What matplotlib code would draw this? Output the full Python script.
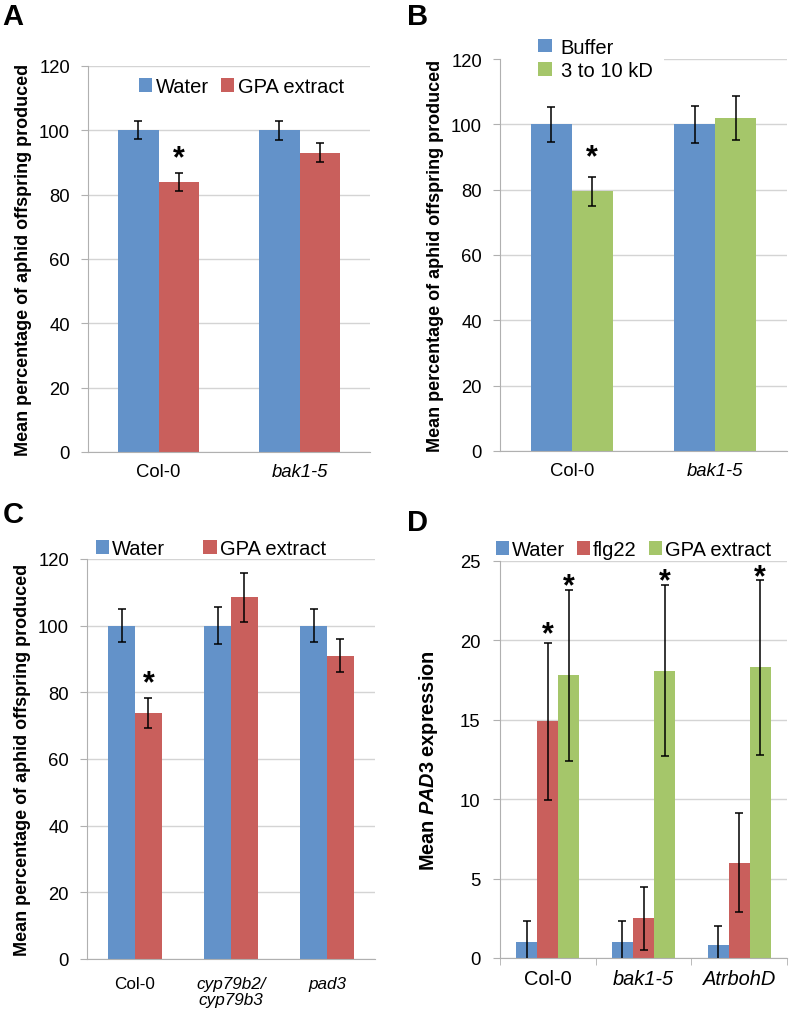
import matplotlib
matplotlib.use("Agg")
import matplotlib.pyplot as plt
from matplotlib.patches import Patch, Rectangle
import numpy as np

plt.rcParams['font.family'] = ['Liberation Sans', 'DejaVu Sans']
plt.rcParams['mathtext.fontset'] = 'custom'
plt.rcParams['mathtext.it'] = 'Liberation Sans:bold:italic'
plt.rcParams['mathtext.rm'] = 'Liberation Sans:bold'

BLUE = '#6392c9'
RED = '#c95f5c'
GREEN = '#a5c66a'
GRID = '#d4d4d4'
SPINE = '#b0b0b0'

# ---------------- data ----------------
a_cats = ['Col-0', 'bak1-5']
a_series = ['Water', 'GPA extract']
a_water = [100, 100]
a_water_err = [2.8, 3.0]
a_gpa = [84, 93]
a_gpa_err = [2.8, 3.0]
a_sig = [True, False]

b_cats = ['Col-0', 'bak1-5']
b_series = ['Buffer', '3 to 10 kD']
b_buffer = [100, 100]
b_buffer_err = [5.3, 5.7]
b_kd = [79.5, 102]
b_kd_err = [4.5, 6.7]
b_sig = [True, False]

c_cats = ['Col-0', 'cyp79b2/\ncyp79b3', 'pad3']
c_series = ['Water', 'GPA extract']
c_water = [100, 100, 100]
c_water_err = [5.0, 5.5, 5.0]
c_gpa = [73.8, 108.5, 91]
c_gpa_err = [4.5, 7.3, 5.0]
c_sig = [True, False, False]

d_cats = ['Col-0', 'bak1-5', 'AtrbohD']
d_series = ['Water', 'flg22', 'GPA extract']
d_water = [1.0, 1.0, 0.8]
d_water_err = [1.3, 1.3, 1.2]
d_flg = [14.9, 2.5, 6.0]
d_flg_err = [4.95, 2.0, 3.1]
d_gpa = [17.8, 18.1, 18.3]
d_gpa_err = [5.4, 5.4, 5.5]
d_flg_sig = [True, False, False]
d_gpa_sig = [True, True, True]

fig = plt.figure(figsize=(7.93, 10.12), dpi=100)


def style_axes(ax, ymax, ystep, ncat, tick_fs, xticks_minor=False):
    ax.set_ylim(0, ymax)
    ax.set_xlim(-0.5, ncat - 0.5)
    ax.set_yticks(np.arange(0, ymax + 0.01, ystep))
    ax.yaxis.grid(True, color=GRID, linewidth=1.0)
    ax.set_axisbelow(True)
    for s in ['top', 'right']:
        ax.spines[s].set_visible(False)
    ax.spines['left'].set_color(SPINE)
    ax.spines['bottom'].set_color(SPINE)
    ax.tick_params(axis='y', length=5, color=SPINE, direction='out',
                   labelsize=tick_fs, pad=8)
    ax.tick_params(axis='x', length=0, labelsize=tick_fs, pad=8)
    ax.set_xticks(np.arange(ncat), minor=False)
    if xticks_minor:
        ax.set_xticks(np.arange(ncat + 1) - 0.5, minor=True)
        ax.tick_params(axis='x', which='minor', length=5, color=SPINE, direction='out')


def bars(ax, x, vals, errs, color, width):
    b = ax.bar(x, vals, width, color=color, zorder=2)
    ax.errorbar(x, vals, yerr=errs, fmt='none', ecolor='black', elinewidth=1.1,
                capsize=3, capthick=1.1, zorder=3)
    return b


def stars(ax, x, vals, errs, sig, off):
    for xi, v, e, s in zip(x, vals, errs, sig):
        if s:
            ax.text(xi, v + e + off, '*', ha='center', va='center',
                    fontsize=22, fontweight='bold', zorder=4)


def handles(colors):
    return [Patch(facecolor=c, edgecolor='none') for c in colors]


YL = 'Mean percentage of aphid offspring produced'

# ---------------- Panel A ----------------
axA = fig.add_axes([0.111, 0.5524, 0.3556, 0.3814])
style_axes(axA, 120, 20, 2, 13.3)
x = np.arange(2)
w = 0.285
bars(axA, x - w / 2, a_water, a_water_err, BLUE, w)
bars(axA, x + w / 2, a_gpa, a_gpa_err, RED, w)
stars(axA, x + w / 2, a_gpa, a_gpa_err, a_sig, 4.5)
axA.set_xticklabels(a_cats)
axA.get_xticklabels()[1].set_style('italic')
axA.set_ylabel(YL, fontsize=13, fontweight='bold', labelpad=5)
axA.legend(handles([BLUE, RED]), a_series, loc='upper center', bbox_to_anchor=(0.545, 1.018),
           ncol=2, frameon=False, fontsize=14.5, handlelength=0.65, handleheight=0.65,
           columnspacing=0.6, handletextpad=0.2)
fig.text(0.003, 0.997, 'A', fontsize=21, fontweight='bold', va='top')

# ---------------- Panel B ----------------
axB = fig.add_axes([0.6305, 0.5534, 0.362, 0.3873])
style_axes(axB, 120, 20, 2, 13.3)
bars(axB, x - w / 2, b_buffer, b_buffer_err, BLUE, w)
bars(axB, x + w / 2, b_kd, b_kd_err, GREEN, w)
stars(axB, x + w / 2, b_kd, b_kd_err, b_sig, 6)
axB.set_xticklabels(b_cats)
axB.get_xticklabels()[1].set_style('italic')
axB.set_ylabel(YL, fontsize=13, fontweight='bold', labelpad=5)
axB.add_patch(Rectangle((0.004, 0.99), 0.566, 0.02, transform=axB.transAxes,
                        facecolor='white', edgecolor='none', zorder=1.5, clip_on=False))
axB.legend(handles([BLUE, GREEN]), b_series, loc='upper left', bbox_to_anchor=(0.085, 1.09),
           ncol=1, frameon=False, fontsize=14.5, handlelength=0.65, handleheight=0.65,
           handletextpad=0.45, labelspacing=0.2, borderpad=0.2)
fig.text(0.513, 0.997, 'B', fontsize=21, fontweight='bold', va='top')

# ---------------- Panel C ----------------
axC = fig.add_axes([0.1097, 0.0514, 0.3632, 0.3953])
style_axes(axC, 120, 20, 3, 13.3)
x3 = np.arange(3)
wc = 0.28
bars(axC, x3 - wc / 2, c_water, c_water_err, BLUE, wc)
bars(axC, x3 + wc / 2, c_gpa, c_gpa_err, RED, wc)
stars(axC, x3 + wc / 2, c_gpa, c_gpa_err, c_sig, 4.5)
axC.set_xticklabels(c_cats, fontsize=12.3, linespacing=1.15)
for lbl in axC.get_xticklabels()[1:]:
    lbl.set_style('italic')
axC.tick_params(axis='x', pad=12)
axC.set_ylabel(YL, fontsize=13, fontweight='bold', labelpad=5)
axC.legend(handles([BLUE, RED]), c_series, loc='lower left', bbox_to_anchor=(0.024, 0.997),
           ncol=2, frameon=False, fontsize=14.5, handlelength=0.65, handleheight=0.65,
           columnspacing=1.9, handletextpad=0.15, borderpad=0.1, borderaxespad=0.0)
fig.text(0.003, 0.505, 'C', fontsize=21, fontweight='bold', va='top')

# ---------------- Panel D ----------------
axD = fig.add_axes([0.6305, 0.0524, 0.362, 0.3923])
style_axes(axD, 25, 5, 3, 13.3, xticks_minor=True)
wd = 0.22
bars(axD, x3 - wd, d_water, d_water_err, BLUE, wd)
bars(axD, x3, d_flg, d_flg_err, RED, wd)
bars(axD, x3 + wd, d_gpa, d_gpa_err, GREEN, wd)
stars(axD, x3, d_flg, d_flg_err, d_flg_sig, 0.55)
stars(axD, x3 + wd, d_gpa, d_gpa_err, d_gpa_sig, 0.2)
axD.set_xticklabels(d_cats, fontsize=14.4)
for lbl in axD.get_xticklabels()[1:]:
    lbl.set_style('italic')
axD.tick_params(axis='y', pad=9)
axD.set_ylabel(r'Mean $\it{PAD3}$ expression', fontsize=14.3,
               fontweight='bold', labelpad=14)
axD.legend(handles([BLUE, RED, GREEN]), d_series, loc='lower left', bbox_to_anchor=(-0.022, 1.0),
           ncol=3, frameon=False, fontsize=14.5, handlelength=0.65, handleheight=0.65,
           columnspacing=0.6, handletextpad=0.15, borderpad=0.1, borderaxespad=0.0)
fig.text(0.513, 0.497, 'D', fontsize=21, fontweight='bold', va='top')

fig.savefig('out.png', dpi=100)
